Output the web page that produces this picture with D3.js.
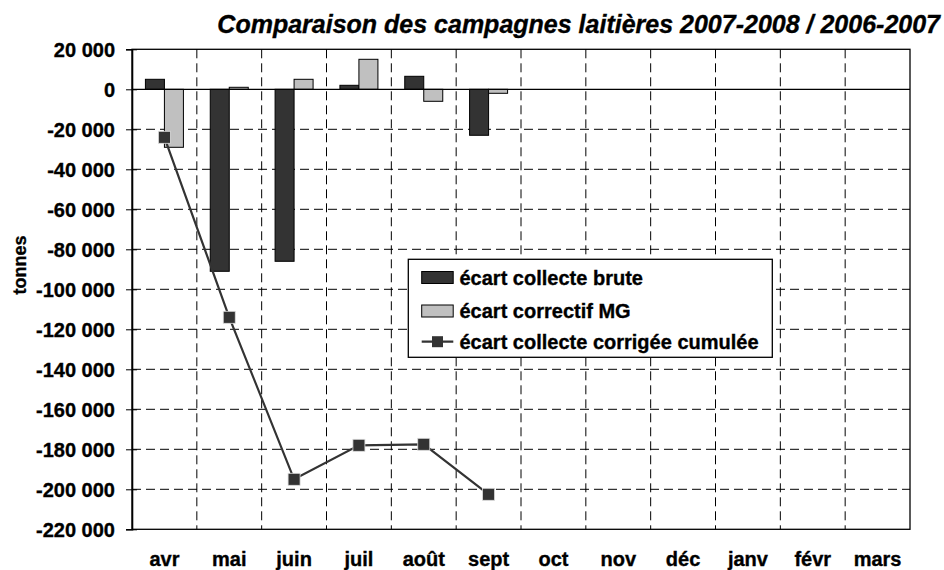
<!DOCTYPE html>
<html><head><meta charset="utf-8">
<script src="https://cdn.jsdelivr.net/npm/d3@7"></script>
<style>body{margin:0;background:#fff}</style>
</head><body><svg id="c" width="944" height="570"></svg>
<script>
const months = ["avr","mai","juin","juil","août","sept","oct","nov","déc","janv","févr","mars"];
const brute = [5000,-91000,-86000,2000,6500,-23000];
const correctif = [-29000,1000,5000,15000,-6000,-2000];
const cumul = [-24000,-114000,-195000,-178000,-177500,-202500];
const yTicks = d3.range(20000,-220001,-20000);
const seriesNames = ["écart collecte brute","écart correctif MG","écart collecte corrigée cumulée"];
const title = "Comparaison des campagnes laitières 2007-2008 / 2006-2007";

const FF = "Liberation Sans, Arial, Helvetica, sans-serif";
const svg = d3.select("#c");
const L=132,R=910,T=49.3,B=529.3;
const x = d3.scaleBand().domain(months).range([L,R]).padding(0);
const y = d3.scaleLinear().domain([-220000,20000]).range([B,T]);
const bw = 19;
const fmt = v => d3.format(",")(v).replace(/,/g," ").replace("−","-");
function font(sel,size){ sel.attr("font-family",FF).attr("font-weight","bold").attr("font-size",size)
  .attr("fill","#000").attr("stroke","#000").attr("stroke-width",0.35); }

// horizontal grid
svg.append("g").selectAll("line").data(yTicks.filter(v=>v!==0&&v!==20000&&v!==-220000)).join("line")
 .attr("x1",L).attr("x2",R).attr("y1",d=>y(d)).attr("y2",d=>y(d))
 .attr("stroke","#000").attr("stroke-width",1).attr("stroke-dasharray","9,5");
// vertical grid
svg.append("g").selectAll("line").data(months.slice(1)).join("line")
 .attr("x1",d=>x(d)).attr("x2",d=>x(d)).attr("y1",T).attr("y2",B)
 .attr("stroke","#000").attr("stroke-width",1).attr("stroke-dasharray","9,5");
// border
svg.append("rect").attr("x",L).attr("y",T).attr("width",R-L).attr("height",B-T)
 .attr("fill","none").attr("stroke","#000").attr("stroke-width",1.3);

// y axis
const ya = svg.append("g").attr("transform",`translate(${L},0)`)
 .call(d3.axisLeft(y).tickValues(yTicks).tickFormat(fmt).tickSize(6).tickPadding(11));
ya.select(".domain").attr("stroke","#000").attr("stroke-width",1.6);
ya.selectAll(".tick line").attr("x1",5).attr("x2",-6).attr("stroke","#000");
ya.selectAll("text").call(font,20).attr("dy","0.36em");
// x axis labels
const xa = svg.append("g").attr("transform",`translate(0,${B})`)
 .call(d3.axisBottom(x).tickSize(0).tickPadding(0));
xa.select(".domain").remove();
xa.selectAll("text").call(font,20).attr("dy",null).attr("y",37);

// bars
svg.append("g").selectAll("rect").data(brute).join("rect")
 .attr("x",(d,i)=>x(months[i])+x.bandwidth()/2-bw)
 .attr("y",d=>y(Math.max(0,d))).attr("width",bw).attr("height",d=>Math.abs(y(d)-y(0)))
 .attr("fill","#333333").attr("stroke","#000").attr("stroke-width",1);
svg.append("g").selectAll("rect").data(correctif).join("rect")
 .attr("x",(d,i)=>x(months[i])+x.bandwidth()/2)
 .attr("y",d=>y(Math.max(0,d))).attr("width",bw).attr("height",d=>Math.abs(y(d)-y(0)))
 .attr("fill","#c0c0c0").attr("stroke","#000").attr("stroke-width",1);
// zero line
svg.append("line").attr("x1",L).attr("x2",R).attr("y1",y(0)).attr("y2",y(0)).attr("stroke","#000").attr("stroke-width",1.3);

// line
const cx = (d,i)=>x(months[i])+x.bandwidth()/2;
svg.append("path").datum(cumul)
 .attr("d",d3.line().x(cx).y(d=>y(d)))
 .attr("fill","none").attr("stroke","#333").attr("stroke-width",2.2);
svg.append("g").selectAll("rect").data(cumul).join("rect")
 .attr("x",(d,i)=>cx(d,i)-6).attr("y",d=>y(d)-6).attr("width",12).attr("height",12)
 .attr("fill","#333").attr("stroke","#ddd").attr("stroke-width",0.8);

// legend
const lg = svg.append("g");
lg.append("rect").attr("x",408.3).attr("y",259.3).attr("width",364).attr("height",98)
 .attr("fill","#fff").attr("stroke","#000").attr("stroke-width",1.3);
const ly=[277.5,311,341.7];
lg.append("rect").attr("x",421.7).attr("y",ly[0]-6).attr("width",31.5).attr("height",12).attr("fill","#333").attr("stroke","#000");
lg.append("rect").attr("x",421.7).attr("y",ly[1]-6).attr("width",31.5).attr("height",12).attr("fill","#c0c0c0").attr("stroke","#000");
lg.append("line").attr("x1",421.7).attr("x2",453.3).attr("y1",ly[2]).attr("y2",ly[2]).attr("stroke","#333").attr("stroke-width",2.2);
lg.append("rect").attr("x",437.5-5.5).attr("y",ly[2]-5.5).attr("width",11).attr("height",11).attr("fill","#333");
lg.selectAll("text").data(seriesNames).join("text")
 .attr("x",459.5).attr("y",(d,i)=>ly[i]+7).call(font,20).text(d=>d);

// axis title
svg.append("text").attr("transform","translate(26,265) rotate(-90)").attr("text-anchor","middle")
 .call(font,18).text("tonnes");
// title
svg.append("text").attr("x",940).attr("y",33).attr("text-anchor","end").call(font,25)
 .attr("font-style","italic").text(title);
</script></body></html>
